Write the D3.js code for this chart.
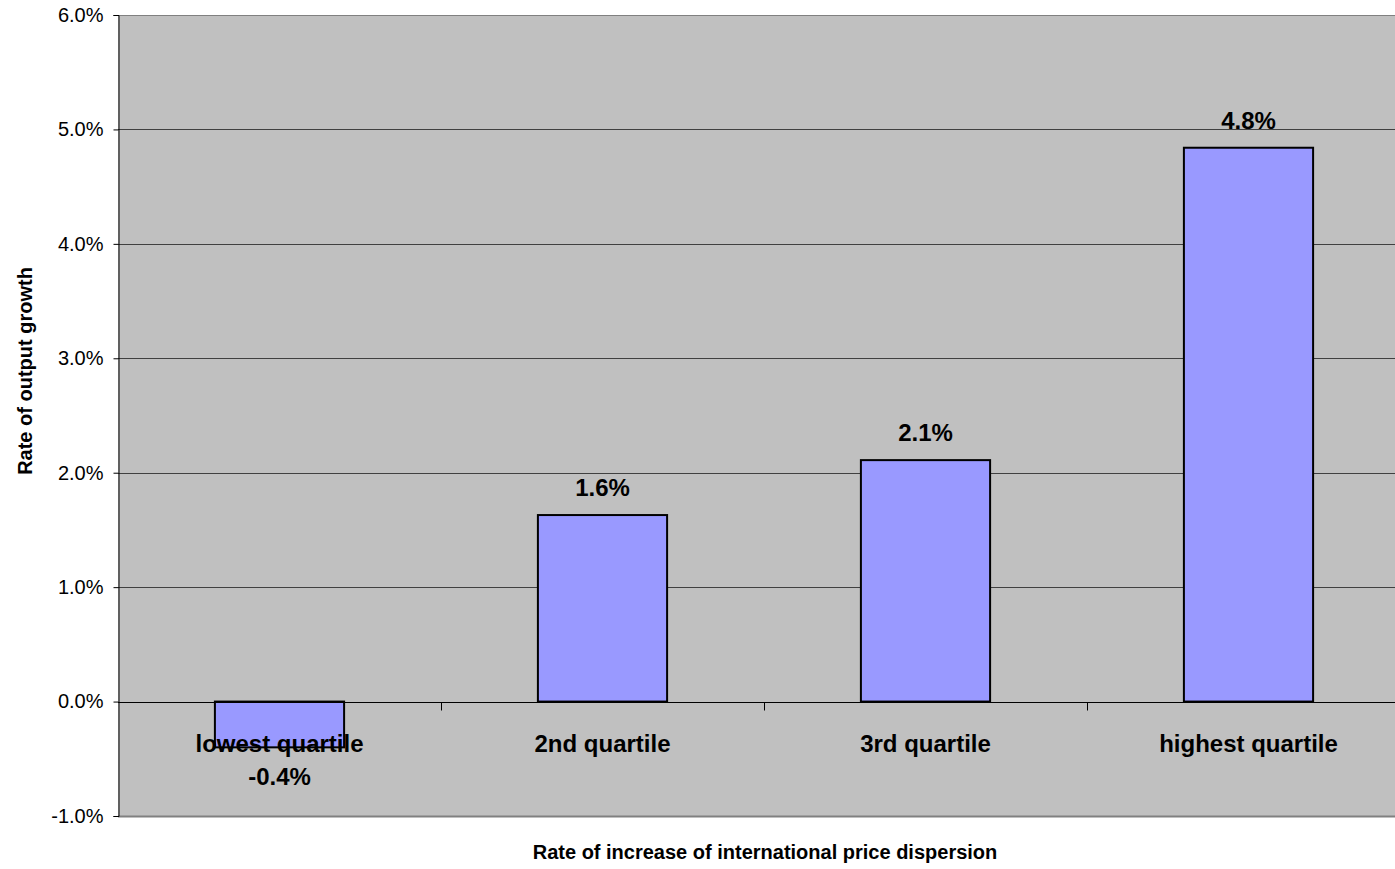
<!DOCTYPE html>
<html>
<head>
<meta charset="utf-8">
<script src="https://cdn.jsdelivr.net/npm/d3@7"></script>
<style>
  html, body { margin: 0; padding: 0; background: #ffffff; }
  svg { display: block; font-family: "Liberation Sans", Arial, sans-serif; }
</style>
</head>
<body>
<svg id="chart" width="1395" height="869"></svg>
<script>
// Output growth by quartile of the rate of increase in international price dispersion
const categories = ["lowest quartile", "2nd quartile", "3rd quartile", "highest quartile"];
const growth = [-0.004, 0.0163, 0.0211, 0.0484];
const yTicks = [-0.01, 0, 0.01, 0.02, 0.03, 0.04, 0.05, 0.06];

const svg = d3.select("#chart");
const plot = { left: 118, top: 15, right: 1410, bottom: 816 };

const x = d3.scaleBand().domain(categories).range([plot.left, plot.right]).padding(0);
const y = d3.scaleLinear().domain([-0.01, 0.06]).range([plot.bottom, plot.top]);
// percent with a plain hyphen for negatives
const pct = v => d3.format(".1%")(v).replace("\u2212", "-");
const barW = x.bandwidth() * 0.4;

// plot background
svg.append("rect")
  .attr("x", plot.left).attr("y", plot.top)
  .attr("width", plot.right - plot.left).attr("height", plot.bottom - plot.top)
  .attr("fill", "#c0c0c0");

// horizontal gridlines
svg.append("g").selectAll("line").data(yTicks.filter(d => d > -0.01 && d !== 0)).join("line")
  .attr("x1", plot.left).attr("x2", plot.right)
  .attr("y1", d => Math.round(y(d)) + 0.5).attr("y2", d => Math.round(y(d)) + 0.5)
  .attr("stroke", d => d === 0.06 ? "#808080" : "#404040").attr("stroke-width", 1);

// bottom border of plot area
svg.append("line")
  .attr("x1", plot.left).attr("x2", plot.right)
  .attr("y1", plot.bottom + 0.5).attr("y2", plot.bottom + 0.5)
  .attr("stroke", "#808080").attr("stroke-width", 2);

// bars
svg.append("g").selectAll("rect").data(categories).join("rect")
  .attr("x", (d) => x(d) + (x.bandwidth() - barW) / 2)
  .attr("y", (d, i) => y(Math.max(0, growth[i])))
  .attr("width", barW)
  .attr("height", (d, i) => Math.abs(y(growth[i]) - y(0)))
  .attr("fill", "#9999ff")
  .attr("stroke", "#000").attr("stroke-width", 2);

// y axis
const yAxis = d3.axisLeft(y).tickValues(yTicks).tickFormat(pct).tickSize(5).tickPadding(10);
const gy = svg.append("g").attr("transform", `translate(${plot.left + 0.5},0)`).call(yAxis);
gy.select(".domain").attr("stroke", "#000");
gy.selectAll(".tick line").attr("stroke", "#000");
gy.selectAll(".tick text").attr("font-size", 20).attr("fill", "#000")
  .attr("font-family", "'Liberation Sans', Arial, sans-serif");

// category axis along zero
const xAxis = d3.axisBottom(x).tickSize(0).tickFormat("");
const gx = svg.append("g").attr("transform", `translate(0,${Math.round(y(0)) + 0.5})`).call(xAxis);
gx.select(".domain").attr("stroke", "#000").attr("d", `M${plot.left},0H${plot.right}`);
gx.selectAll(".tick").remove();
gx.selectAll(".divider").data(categories.slice(1)).join("line")
  .attr("class", "divider")
  .attr("x1", d => Math.round(x(d)) + 0.5).attr("x2", d => Math.round(x(d)) + 0.5)
  .attr("y1", 0).attr("y2", 8)
  .attr("stroke", "#000");

// category labels
svg.append("g").selectAll("text").data(categories).join("text")
  .attr("x", d => x(d) + x.bandwidth() / 2)
  .attr("y", y(0) + 50)
  .attr("text-anchor", "middle")
  .attr("font-size", 24).attr("font-weight", "bold")
  .text(d => d);

// value labels
svg.append("g").selectAll("text").data(categories).join("text")
  .attr("x", d => x(d) + x.bandwidth() / 2)
  .attr("y", (d, i) => growth[i] >= 0 ? y(growth[i]) - 19 : y(growth[i]) + 38)
  .attr("text-anchor", "middle")
  .attr("font-size", 24).attr("font-weight", "bold")
  .text((d, i) => pct(growth[i]));

// axis titles
svg.append("text")
  .attr("x", 765).attr("y", 859)
  .attr("text-anchor", "middle")
  .attr("font-size", 20).attr("font-weight", "bold")
  .text("Rate of increase of international price dispersion");

svg.append("text")
  .attr("transform", "translate(32,371) rotate(-90)")
  .attr("text-anchor", "middle")
  .attr("font-size", 20).attr("font-weight", "bold")
  .text("Rate of output growth");
</script>
</body>
</html>
